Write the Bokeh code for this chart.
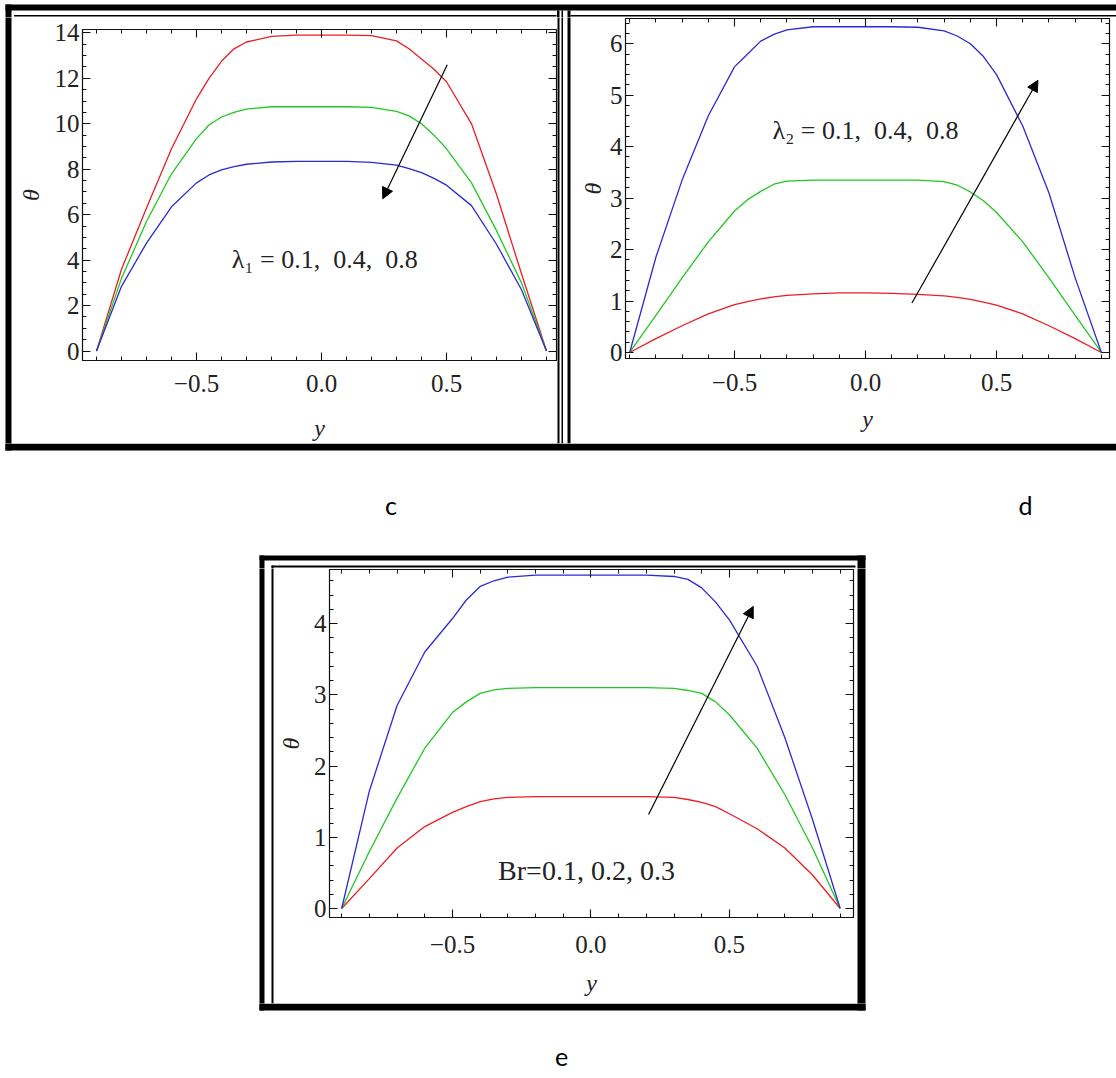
from bokeh.plotting import figure
from bokeh.layouts import column, row
from bokeh.models import (LinearAxis, FixedTicker, Range1d, Arrow, NormalHead, Label)
from bokeh.embed import file_html
from bokeh.resources import INLINE
from bokeh.core.properties import value

# ---------------- data ----------------
y_pts = [-0.9, -0.8, -0.7, -0.6, -0.5, -0.45, -0.4, -0.35, -0.3, -0.2, -0.1, 0.0,
         0.1, 0.2, 0.3, 0.35, 0.4, 0.45, 0.5, 0.6, 0.7, 0.8, 0.9]

# panel c : lambda_1 = 0.1, 0.4, 0.8
c_red = [0, 3.6, 6.3, 8.9, 11.1, 12.0, 12.75, 13.3, 13.6, 13.85, 13.9, 13.9,
         13.9, 13.88, 13.65, 13.3, 12.85, 12.4, 11.85, 10.0, 6.9, 3.4, 0]
c_green = [0, 3.2, 5.7, 7.8, 9.35, 9.95, 10.3, 10.5, 10.65, 10.75, 10.75, 10.75,
           10.75, 10.72, 10.55, 10.35, 10.0, 9.5, 8.9, 7.4, 5.3, 3.0, 0]
c_blue = [0, 2.85, 4.75, 6.35, 7.4, 7.75, 7.97, 8.12, 8.22, 8.32, 8.35, 8.35,
          8.35, 8.3, 8.18, 8.03, 7.85, 7.6, 7.3, 6.4, 4.7, 2.7, 0]

# panel d : lambda_2 = 0.1, 0.4, 0.8
d_red = [0, 0.27, 0.52, 0.75, 0.93, 0.99, 1.04, 1.08, 1.11, 1.14, 1.16, 1.16,
         1.15, 1.13, 1.1, 1.07, 1.03, 0.98, 0.92, 0.75, 0.52, 0.27, 0]
d_green = [0, 0.72, 1.45, 2.15, 2.75, 2.97, 3.13, 3.27, 3.33, 3.35, 3.35, 3.35,
           3.35, 3.35, 3.32, 3.25, 3.12, 2.95, 2.72, 2.15, 1.45, 0.72, 0]
d_blue = [0, 1.85, 3.35, 4.6, 5.55, 5.8, 6.05, 6.18, 6.27, 6.33, 6.33, 6.33,
          6.33, 6.32, 6.25, 6.15, 6.0, 5.75, 5.4, 4.4, 3.1, 1.45, 0]

# panel e : Br = 0.1, 0.2, 0.3
e_red = [0, 0.42, 0.85, 1.15, 1.35, 1.43, 1.5, 1.54, 1.56, 1.57, 1.57, 1.57,
         1.57, 1.57, 1.56, 1.53, 1.49, 1.43, 1.33, 1.12, 0.85, 0.47, 0]
e_green = [0, 0.8, 1.55, 2.25, 2.75, 2.9, 3.02, 3.07, 3.09, 3.1, 3.1, 3.1,
           3.1, 3.1, 3.09, 3.06, 3.02, 2.9, 2.72, 2.25, 1.6, 0.85, 0]
e_blue = [0, 1.65, 2.85, 3.6, 4.07, 4.33, 4.52, 4.6, 4.65, 4.68, 4.68, 4.68,
          4.68, 4.68, 4.66, 4.62, 4.5, 4.3, 4.05, 3.4, 2.4, 1.25, 0]

# arrows (x_start, y_start, x_end, y_end)
arrow_c = [0.503, 12.6, 0.245, 6.7]
arrow_d = [0.177, 0.96, 0.658, 5.29]
arrow_e = [0.208, 1.32, 0.586, 4.24]

# annotation texts (text, x, y)
note_c = ["λ₁ = 0.1,\u00a0 0.4,\u00a0 0.8", 0.013, 4.05]
note_d = ["λ₂ = 0.1,\u00a0 0.4,\u00a0 0.8", 0.0, 4.31]
note_e = ["Br=0.1, 0.2, 0.3", -0.016, 0.53]

# ticks
x_ticks = [-0.5, 0.0, 0.5]
x_tick_labels = ["−0.5", "0.0", "0.5"]
x_minor = [-0.9, -0.8, -0.7, -0.6, -0.4, -0.3, -0.2, -0.1,
           0.1, 0.2, 0.3, 0.4, 0.6, 0.7, 0.8, 0.9]
c_y_ticks = [0, 2, 4, 6, 8, 10, 12, 14]
c_y_labels = ["0", "2", "4", "6", "8", "10", "12", "14"]
d_y_ticks = [0, 1, 2, 3, 4, 5, 6]
d_y_labels = ["0", "1", "2", "3", "4", "5", "6"]
e_y_ticks = [0, 1, 2, 3, 4]
e_y_labels = ["0", "1", "2", "3", "4"]
c_y_minor = [k * 0.5 for k in range(0, 29)]
d_y_minor = [round(k * 0.2, 2) for k in range(0, 33)]
e_y_minor = [round(k * 0.2, 2) for k in range(0, 24)]

panel_labels = ["c", "d", "e"]

# ---------------- styling ----------------
INK = "#111111"
SERIF = "Liberation Serif"
COLORS = ["#ee1c24", "#22c822", "#2a2ad4"]
PAGE_W = 1116

# frame lines of the page (page pixels: x0, y0, x1, y1)
FRAME_RECTS = [
    (5, 4, PAGE_W, 10), (5, 4, 11, 450), (5, 443, PAGE_W, 450),
    (13.5, 14.5, 556, 16),
    (556.5, 10, 559, 443), (561, 10, 562.5, 443), (567, 10, 570, 443),
    (570, 14.5, PAGE_W, 16),
    (259, 555, 865, 560), (259, 555, 264, 1010), (857, 555, 865, 1010),
    (259, 1003, 865, 1010), (271, 565, 273, 1003), (271, 565, 855, 567),
]


def no_align(p):
    try:
        p.frame_align = False
    except Exception:
        pass


def style_axis(ax, ticks, minor, labels=None, standoff=0):
    ax.ticker = FixedTicker(ticks=ticks, minor_ticks=minor)
    ax.axis_line_color = INK
    ax.axis_line_width = 1.2
    ax.major_tick_line_color = INK
    ax.minor_tick_line_color = INK
    ax.major_tick_line_width = 1.1
    ax.minor_tick_line_width = 1.0
    ax.major_tick_in = 8
    ax.major_tick_out = 0
    ax.minor_tick_in = 4
    ax.minor_tick_out = 0
    if labels is None:
        ax.major_label_text_font_size = "0px"
        ax.major_label_standoff = 0
        ax.major_label_text_alpha = 0
    else:
        ax.major_label_overrides = dict(zip(ticks, labels))
        ax.major_label_text_font = SERIF
        ax.major_label_text_font_size = "25px"
        ax.major_label_text_color = "#222222"
        ax.major_label_standoff = standoff


def make_panel(W, H, frame, xr, yr, yt, ylab, ymin, series, note, note_size,
               arrow, xs_tick, xs_lab, ys_tick, ys_lab):
    l, r, t, b = frame
    p = figure(width=W, height=H, x_range=Range1d(*xr), y_range=Range1d(*yr),
               output_backend="svg", toolbar_location=None,
               min_border_left=l, min_border_right=W - r,
               min_border_top=t, min_border_bottom=H - b,
               background_fill_color="white", border_fill_color="white",
               outline_line_color=INK)
    no_align(p)
    p.grid.visible = False
    for vals, col in zip(series, COLORS):
        p.line(y_pts, vals, line_color=col, line_width=1.3)

    xa = p.xaxis[0]
    ya = p.yaxis[0]
    style_axis(xa, x_ticks, x_minor, x_tick_labels, xs_tick)
    style_axis(ya, yt, ymin, ylab, ys_tick)
    xa.axis_label = "y"
    ya.axis_label = "θ"
    for ax, s in ((xa, xs_lab), (ya, ys_lab)):
        ax.axis_label_text_font = SERIF
        ax.axis_label_text_font_style = "italic"
        ax.axis_label_text_font_size = "24px"
        ax.axis_label_text_color = "#222222"
        ax.axis_label_standoff = s

    top = LinearAxis()
    style_axis(top, x_ticks, x_minor)
    p.add_layout(top, "above")
    right = LinearAxis()
    style_axis(right, yt, ymin)
    p.add_layout(right, "right")

    p.add_layout(Label(x=note[1], y=note[2], text=note[0], text_font=SERIF,
                       text_font_size=note_size, text_color="#222222",
                       text_align="center", text_baseline="middle"))
    p.add_layout(Arrow(end=NormalHead(size=11, fill_color="black", line_color="black"),
                       x_start=arrow[0], y_start=arrow[1],
                       x_end=arrow[2], y_end=arrow[3],
                       line_color="black", line_width=1.2))
    return p


def strip(x0, y0, W, H, texts=None):
    """A plain drawing strip in page pixel coordinates carrying the frame lines."""
    p = figure(width=W, height=H, x_range=Range1d(x0, x0 + W),
               y_range=Range1d(y0 + H, y0),
               output_backend="svg", toolbar_location=None,
               x_axis_location=None, y_axis_location=None,
               min_border=0, outline_line_color=None,
               background_fill_color="white", border_fill_color="white")
    no_align(p)
    p.grid.visible = False
    p.quad(left=[r[0] for r in FRAME_RECTS], right=[r[2] for r in FRAME_RECTS],
           top=[r[1] for r in FRAME_RECTS], bottom=[r[3] for r in FRAME_RECTS],
           fill_color="black", line_color=None)
    if texts:
        p.text(x=[t[0] for t in texts], y=[t[1] for t in texts],
               text=[t[2] for t in texts], text_font=value("Lato"),
               text_font_size=value("25px"), text_color="black",
               text_align="center", text_baseline="middle")
    return p


# panel c : canvas origin at page (12, 17)
fig_c = make_panel(
    545, 426, (70, 544, 12, 345), (-0.956, 0.94), (-0.415, 14.15),
    c_y_ticks, c_y_labels, c_y_minor, [c_red, c_green, c_blue],
    note_c, "26px", arrow_c, 14, 20, 3, 8)

# panel d : canvas origin at page (572, 17)
fig_d = make_panel(
    PAGE_W - 572, 426, (53, 537, 1, 341), (-0.916, 0.931), (-0.117, 6.49),
    d_y_ticks, d_y_labels, d_y_minor, [d_red, d_green, d_blue],
    note_d, "26px", arrow_d, 15, 12, 3, 1)

# panel e : canvas origin at page (274, 568)
fig_e = make_panel(
    582, 435, (55, 579, 1, 349), (-0.944, 0.948), (-0.126, 4.758),
    e_y_ticks, e_y_labels, e_y_minor, [e_red, e_green, e_blue],
    note_e, "28px", arrow_e, 18, 14, 3, 7)

s_top = strip(0, 0, PAGE_W, 17)
s_left = strip(0, 17, 12, 426)
s_mid = strip(557, 17, 15, 426)
s_band = strip(0, 443, PAGE_W, 125,
               [(390.5, 504, panel_labels[0]), (1025, 504, panel_labels[1])])
s_eleft = strip(0, 568, 274, 435)
s_eright = strip(856, 568, PAGE_W - 856, 435)
s_bottom = strip(0, 1003, PAGE_W, 71, [(561, 1056, panel_labels[2])])

layout = column(
    s_top,
    row(s_left, fig_c, s_mid, fig_d),
    s_band,
    row(s_eleft, fig_e, s_eright),
    s_bottom,
)

open("out.html", "w").write(file_html(layout, INLINE))
